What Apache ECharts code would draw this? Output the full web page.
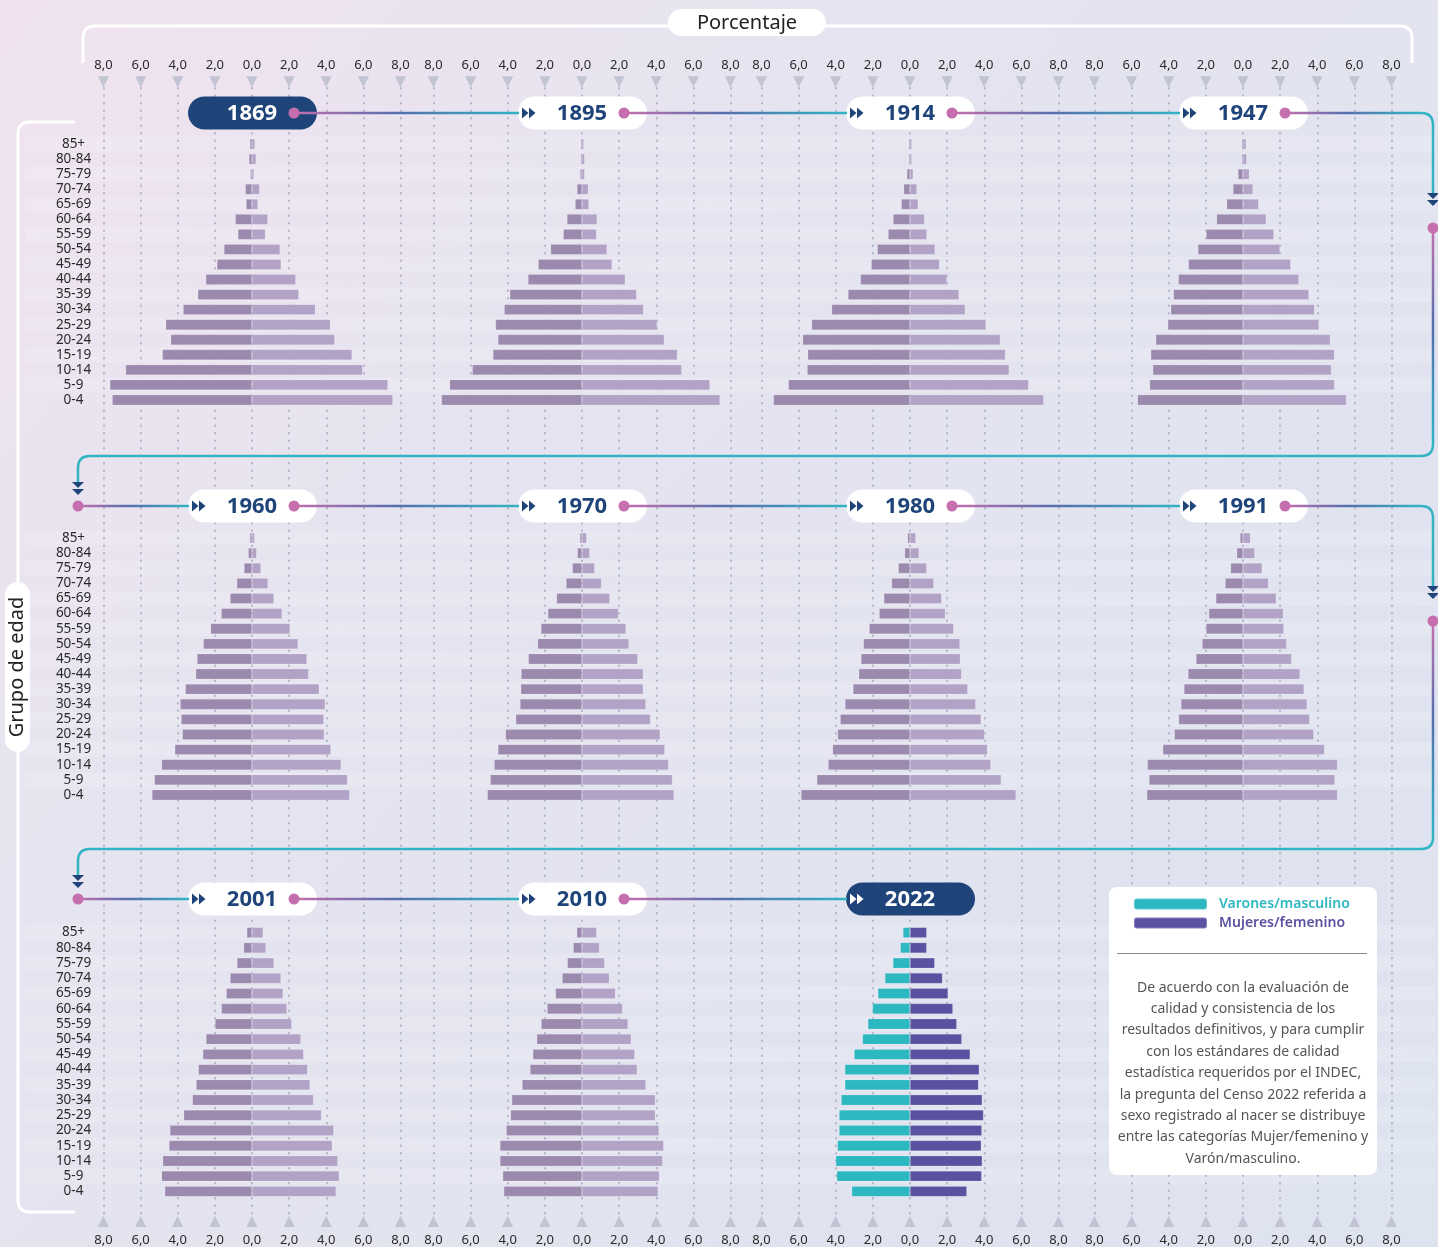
<!DOCTYPE html>
<html><head><meta charset="utf-8">
<script src="https://cdn.jsdelivr.net/npm/echarts@6/dist/echarts.min.js"></script>
<style>html,body{margin:0;padding:0;background:#e6e4f0}#c{width:1438px;height:1247px}</style>
</head><body><div id="c"></div>
<script>
// ---------- DATA ----------
const ageGroups = ['85+','80-84','75-79','70-74','65-69','60-64','55-59','50-54','45-49','40-44','35-39','30-34','25-29','20-24','15-19','10-14','5-9','0-4'];
const years = ['1869','1895','1914','1947','1960','1970','1980','1991','2001','2010','2022'];

const men1869 = [0.11,0.16,0.09,0.36,0.32,0.90,0.76,1.51,1.89,2.49,2.92,3.71,4.65,4.38,4.83,6.81,7.66,7.53];
const women1869 = [0.16,0.22,0.11,0.41,0.32,0.85,0.72,1.51,1.57,2.36,2.52,3.41,4.22,4.45,5.39,5.96,7.32,7.59];
const men1895 = [0.07,0.07,0.10,0.27,0.37,0.81,1.01,1.69,2.36,2.91,3.89,4.19,4.66,4.53,4.80,5.91,7.13,7.57];
const women1895 = [0.10,0.14,0.14,0.34,0.37,0.81,0.78,1.35,1.62,2.33,2.94,3.31,4.05,4.43,5.14,5.37,6.89,7.43];
const men1914 = [0.07,0.07,0.17,0.34,0.47,0.91,1.18,1.76,2.09,2.67,3.34,4.22,5.30,5.78,5.51,5.54,6.55,7.36];
const women1914 = [0.10,0.10,0.17,0.37,0.44,0.78,0.91,1.35,1.59,1.99,2.64,2.97,4.09,4.86,5.14,5.34,6.39,7.20];
const men1947 = [0.07,0.07,0.27,0.54,0.88,1.42,1.99,2.43,2.94,3.48,3.75,3.89,4.05,4.70,4.97,4.86,5.03,5.68];
const women1947 = [0.17,0.20,0.34,0.54,0.84,1.25,1.66,1.99,2.57,3.01,3.55,3.85,4.09,4.70,4.93,4.76,4.93,5.57];
const men1960 = [0.11,0.20,0.43,0.82,1.18,1.66,2.23,2.62,2.96,3.03,3.59,3.87,3.82,3.75,4.16,4.87,5.26,5.39];
const women1960 = [0.14,0.25,0.48,0.86,1.18,1.62,2.05,2.48,2.96,3.05,3.62,3.94,3.87,3.89,4.25,4.80,5.14,5.26];
const men1970 = [0.11,0.25,0.52,0.86,1.37,1.84,2.21,2.39,2.89,3.28,3.30,3.34,3.57,4.12,4.53,4.73,4.94,5.10];
const women1970 = [0.25,0.41,0.68,1.05,1.50,1.96,2.37,2.53,3.00,3.30,3.30,3.44,3.69,4.21,4.46,4.66,4.87,4.96];
const men1980 = [0.13,0.29,0.63,0.99,1.41,1.66,2.20,2.51,2.64,2.76,3.07,3.50,3.76,3.90,4.17,4.41,5.02,5.87];
const women1980 = [0.31,0.49,0.90,1.28,1.70,1.90,2.35,2.69,2.71,2.78,3.11,3.54,3.83,4.01,4.17,4.35,4.91,5.71];
const men1991 = [0.16,0.34,0.67,0.96,1.46,1.84,1.99,2.20,2.53,2.96,3.18,3.34,3.47,3.70,4.32,5.15,5.06,5.18];
const women1991 = [0.40,0.63,1.03,1.37,1.79,2.17,2.20,2.35,2.62,3.07,3.29,3.45,3.59,3.81,4.39,5.09,4.95,5.09];
const men2001 = [0.28,0.45,0.81,1.18,1.39,1.65,1.99,2.48,2.65,2.89,3.01,3.21,3.68,4.42,4.47,4.81,4.87,4.70];
const women2001 = [0.60,0.75,1.18,1.56,1.67,1.88,2.14,2.63,2.78,2.99,3.12,3.31,3.74,4.40,4.32,4.62,4.70,4.53];
const men2010 = [0.28,0.47,0.79,1.07,1.43,1.88,2.20,2.44,2.65,2.80,3.23,3.78,3.85,4.08,4.42,4.42,4.27,4.21];
const women2010 = [0.79,0.94,1.22,1.47,1.80,2.18,2.48,2.65,2.84,2.97,3.44,3.95,3.95,4.15,4.40,4.34,4.17,4.10];
const men2022 = [0.38,0.52,0.92,1.35,1.73,2.02,2.27,2.56,3.01,3.51,3.51,3.71,3.82,3.82,3.91,4.00,3.95,3.14];
const women2022 = [0.90,0.90,1.33,1.75,2.05,2.31,2.52,2.79,3.24,3.73,3.69,3.89,3.96,3.87,3.84,3.89,3.86,3.06];

const menByYear = [men1869,men1895,men1914,men1947,men1960,men1970,men1980,men1991,men2001,men2010,men2022];
const womenByYear = [women1869,women1895,women1914,women1947,women1960,women1970,women1980,women1991,women2001,women2010,women2022];

const noteLines = [
  'De acuerdo con la evaluación de',
  'calidad y consistencia de los',
  'resultados definitivos, y para cumplir',
  'con los estándares de calidad',
  'estadística requeridos por el INDEC,',
  'la pregunta del Censo 2022 referida a',
  'sexo registrado al nacer se distribuye',
  'entre las categorías Mujer/femenino y',
  'Varón/masculino.'
];

// ---------- LAYOUT / STYLE ----------
const FONT = '"Noto Sans", sans-serif';
const colC = [252, 582, 910, 1243];
const halfW = 148.5;
const rowTop = [136.5, 530.5, 925];
const rowH = [271, 272, 274];
const pillY = [113, 506, 899];
const NAVY = '#1f4479', PINK = '#c66fae', TEAL = '#32b4c4', MIDBLUE = '#566fae';
const histM = '#9c89ae', histW = '#b1a2c6', m22 = '#2cb7c1', w22 = '#5a52a0';
const fmt = v => Math.abs(v).toFixed(1).replace('.', ',');

const grid = [], xAxis = [], yAxis = [], series = [];

// row background stripes (full width)
for (let r = 0; r < 3; r++) {
  const gi = grid.length;
  grid.push({left: 25, right: 3, top: rowTop[r], height: rowH[r]});
  xAxis.push({gridIndex: gi, type: 'value', min: 0, max: 1, show: false});
  yAxis.push({gridIndex: gi, type: 'category', data: ageGroups, inverse: true, z: 0,
    axisLine: {show: false}, axisTick: {show: false}, axisLabel: {show: false},
    splitLine: {show: false},
    splitArea: {show: true, interval: 0, areaStyle: {color: ['rgba(255,255,255,0.14)', 'rgba(255,255,255,0)']}}});
}

// column grids: dotted grid lines + top/bottom tick labels
for (let c = 0; c < 4; c++) {
  const gi = grid.length;
  grid.push({left: colC[c] - halfW, width: 2 * halfW, top: 88, height: 1127});
  xAxis.push({gridIndex: gi, type: 'value', position: 'top', min: -8, max: 8, interval: 2, z: 1,
    axisLine: {show: false}, axisTick: {show: false},
    splitLine: {show: true, lineStyle: {color: 'rgba(140,140,165,0.55)', width: 2, type: [0.5, 7], cap: 'round'}},
    axisLabel: {margin: -3, formatter: v => '{n|' + fmt(v) + '}\n{t|▼}',
      rich: {n: {fontSize: 13, color: '#2a2a2a', lineHeight: 16, fontFamily: FONT},
             t: {fontSize: 19, color: '#c3c4d3', lineHeight: 18}}}});
  xAxis.push({gridIndex: gi, type: 'value', position: 'bottom', min: -8, max: 8, interval: 2,
    axisLine: {show: false}, axisTick: {show: false}, splitLine: {show: false},
    axisLabel: {margin: 0, formatter: v => '{t|▲}\n{n|' + fmt(v) + '}',
      rich: {n: {fontSize: 13, color: '#2a2a2a', lineHeight: 22, fontFamily: FONT},
             t: {fontSize: 19, color: '#c3c4d3', lineHeight: 14}}}});
  yAxis.push({gridIndex: gi, type: 'value', min: 0, max: 1, show: false});
}

// panels
years.forEach((yr, k) => {
  const r = Math.floor(k / 4), c = k % 4;
  const gi = grid.length;
  grid.push({left: colC[c] - halfW, width: 2 * halfW, top: rowTop[r], height: rowH[r]});
  const xi = xAxis.length;
  xAxis.push({gridIndex: gi, type: 'value', min: -8, max: 8, interval: 2, show: false});
  const yi = yAxis.length;
  yAxis.push({gridIndex: gi, type: 'category', data: ageGroups, inverse: true,
    axisLine: {show: false}, axisTick: {show: false}, splitLine: {show: false},
    axisLabel: {show: c === 0, interval: 0, align: 'center', margin: 30, fontSize: 13.5, color: '#2a2a2a', fontFamily: FONT}});
  const is22 = yr === '2022';
  series.push({type: 'bar', name: is22 ? 'Varones/masculino' : 'Varones ' + yr,
    xAxisIndex: xi, yAxisIndex: yi, barWidth: 10.5, barGap: '-100%',
    data: menByYear[k].map(v => -v),
    itemStyle: {color: is22 ? m22 : histM, borderColor: 'rgba(255,255,255,0.25)', borderWidth: 0.6}});
  series.push({type: 'bar', name: is22 ? 'Mujeres/femenino' : 'Mujeres ' + yr,
    xAxisIndex: xi, yAxisIndex: yi, barWidth: 10.5, barGap: '-100%',
    data: womenByYear[k],
    itemStyle: {color: is22 ? w22 : histW, borderColor: 'rgba(255,255,255,0.25)', borderWidth: 0.6}});
});

// ---------- DECORATION ----------
const lg = (x1, y1, x2, y2, stops) => ({type: 'linear', x: x1, y: y1, x2: x2, y2: y2, colorStops: stops, global: true});
const STOPS = [{offset: 0, color: PINK}, {offset: 0.45, color: MIDBLUE}, {offset: 1, color: TEAL}];
const hGrad = (x1, x2) => lg(x1, 0, x2, 0, STOPS);
const vGrad = (y1, y2) => lg(0, y1, 0, y2, STOPS);
const gfx = [];
// rounded polyline made of lines + quadratic corners
function roundPath(pts, rad, stroke, lw, z) {
  let start = pts[0];
  for (let i = 1; i < pts.length; i++) {
    const p = pts[i];
    if (i < pts.length - 1) {
      const prev = pts[i - 1], next = pts[i + 1];
      const d1x = Math.sign(p[0] - prev[0]), d1y = Math.sign(p[1] - prev[1]);
      const d2x = Math.sign(next[0] - p[0]), d2y = Math.sign(next[1] - p[1]);
      const a = [p[0] - d1x * rad, p[1] - d1y * rad];
      const b = [p[0] + d2x * rad, p[1] + d2y * rad];
      gfx.push({type: 'line', z, shape: {x1: start[0], y1: start[1], x2: a[0], y2: a[1]}, style: {stroke, lineWidth: lw}});
      gfx.push({type: 'bezierCurve', z, shape: {x1: a[0], y1: a[1], cpx1: p[0], cpy1: p[1], x2: b[0], y2: b[1]},
        style: {stroke, lineWidth: lw, fill: null}});
      start = b;
    } else {
      gfx.push({type: 'line', z, shape: {x1: start[0], y1: start[1], x2: p[0], y2: p[1]}, style: {stroke, lineWidth: lw}});
    }
  }
}
const dot = (x, y) => gfx.push({type: 'circle', z: 13, shape: {cx: x, cy: y, r: 5.5}, style: {fill: PINK}});
const downArrows = (x, y) => {
  [0, 7].forEach(d => gfx.push({type: 'polygon', z: 13,
    shape: {points: [[x - 6, y + d], [x + 6, y + d], [x, y + d + 6]]}, style: {fill: NAVY}}));
};
const rightArrows = (x, y, col) => {
  [0, 7].forEach(d => gfx.push({type: 'polygon', z: 13,
    shape: {points: [[x + d, y - 5.5], [x + d + 6.5, y], [x + d, y + 5.5]]}, style: {fill: col}}));
};

// top bracket "Porcentaje"
roundPath([[83, 63], [83, 26], [1412, 26], [1412, 63]], 12, '#ffffff', 3, 5);
gfx.push({type: 'rect', z: 6, shape: {x: 668, y: 9, width: 158, height: 27, r: 13.5}, style: {fill: '#ffffff'}});
gfx.push({type: 'text', z: 7, style: {text: 'Porcentaje', x: 747, y: 23, align: 'center', verticalAlign: 'middle',
  textAlign: 'center', textVerticalAlign: 'middle', font: '20px ' + FONT, fill: '#222'}});

// left bracket "Grupo de edad"
roundPath([[75, 122], [18, 122], [18, 1212], [75, 1212]], 12, '#ffffff', 3, 5);
gfx.push({type: 'rect', z: 6, shape: {x: 5, y: 582, width: 25, height: 170, r: 12.5}, style: {fill: '#ffffff'}});
gfx.push({type: 'text', z: 7, x: 17.5, y: 667, rotation: Math.PI / 2,
  style: {text: 'Grupo de edad', x: 0, y: 0, align: 'center', verticalAlign: 'middle',
  textAlign: 'center', textVerticalAlign: 'middle', font: '20px ' + FONT, fill: '#222'}});

// connectors
years.forEach((yr, k) => {
  const r = Math.floor(k / 4), c = k % 4, cx = colC[c], cy = pillY[r];
  if (k + 1 < years.length && c < 3) {
    const nx = colC[c + 1] - 63;
    gfx.push({type: 'line', z: 11, shape: {x1: cx + 42, y1: cy, x2: nx, y2: cy},
      style: {stroke: hGrad(cx + 42, nx), lineWidth: 2.5}});
  }
  if (c === 3 && k + 1 < years.length) {
    roundPath([[cx + 42, cy], [1433, cy], [1433, cy + 80]], 12, hGrad(cx + 42, 1420), 2.5, 11);
    downArrows(1433, cy + 80);
    dot(1433, cy + 115);
    roundPath([[1433, cy + 115], [1433, cy + 343], [78, cy + 343], [78, cy + 369]], 12, vGrad(cy + 115, cy + 330), 2.5, 11);
    downArrows(78, cy + 369);
    const ny = pillY[r + 1];
    dot(78, ny);
    gfx.push({type: 'line', z: 11, shape: {x1: 78, y1: ny, x2: colC[0] - 63, y2: ny},
      style: {stroke: hGrad(78, colC[0] - 63), lineWidth: 2.5}});
  }
});

// year pills
years.forEach((yr, k) => {
  const r = Math.floor(k / 4), c = k % 4, cx = colC[c], cy = pillY[r];
  const dark = (k === 0 || k === years.length - 1);
  gfx.push({type: 'rect', z: 10, shape: {x: cx - 64, y: cy - 16.5, width: 129, height: 33, r: 16.5},
    style: {fill: dark ? NAVY : '#ffffff'}});
  gfx.push({type: 'text', z: 12, style: {text: yr, x: cx, y: cy + 1, align: 'center', verticalAlign: 'middle',
    textAlign: 'center', textVerticalAlign: 'middle', font: 'bold 22px ' + FONT, fill: dark ? '#ffffff' : NAVY}});
  if (k !== 0) rightArrows(cx - 60, cy, dark ? '#ffffff' : NAVY);
  if (k !== years.length - 1) dot(cx + 42, cy);
});

// legend / note box
gfx.push({type: 'rect', z: 3, shape: {x: 1109, y: 887, width: 268, height: 288, r: 8}, style: {fill: '#ffffff'}});
gfx.push({type: 'line', z: 4, shape: {x1: 1117, y1: 953.5, x2: 1367, y2: 953.5}, style: {stroke: '#8a8a8a', lineWidth: 1}});
gfx.push({type: 'text', z: 4, style: {text: noteLines.join('\n'), x: 1243, y: 977, align: 'center', verticalAlign: 'top',
  textAlign: 'center', textVerticalAlign: 'top', font: '14px ' + FONT, lineHeight: 21.4, fill: '#555'}});

const chart = echarts.init(document.getElementById('c'), null, {renderer: 'canvas'});
chart.setOption({
  animation: false,
  backgroundColor: lg(0, 0, 1438, 1247, [
    {offset: 0, color: '#f0e3ef'}, {offset: 0.35, color: '#e5e4f0'}, {offset: 1, color: '#dde3ef'}]),
  textStyle: {fontFamily: FONT},
  legend: {left: 1133, top: 897, padding: 0, orient: 'vertical', itemWidth: 73, itemHeight: 11, itemGap: 5,
    icon: 'roundRect', selectedMode: false, z: 6,
    data: [{name: 'Varones/masculino', textStyle: {color: '#2cb7c1'}}, {name: 'Mujeres/femenino', textStyle: {color: '#5a52a0'}}],
    textStyle: {fontSize: 14, fontWeight: 600, padding: [0, 0, 0, 7], fontFamily: FONT}},
  grid, xAxis, yAxis, series,
  graphic: {elements: gfx}
});
</script></body></html>
